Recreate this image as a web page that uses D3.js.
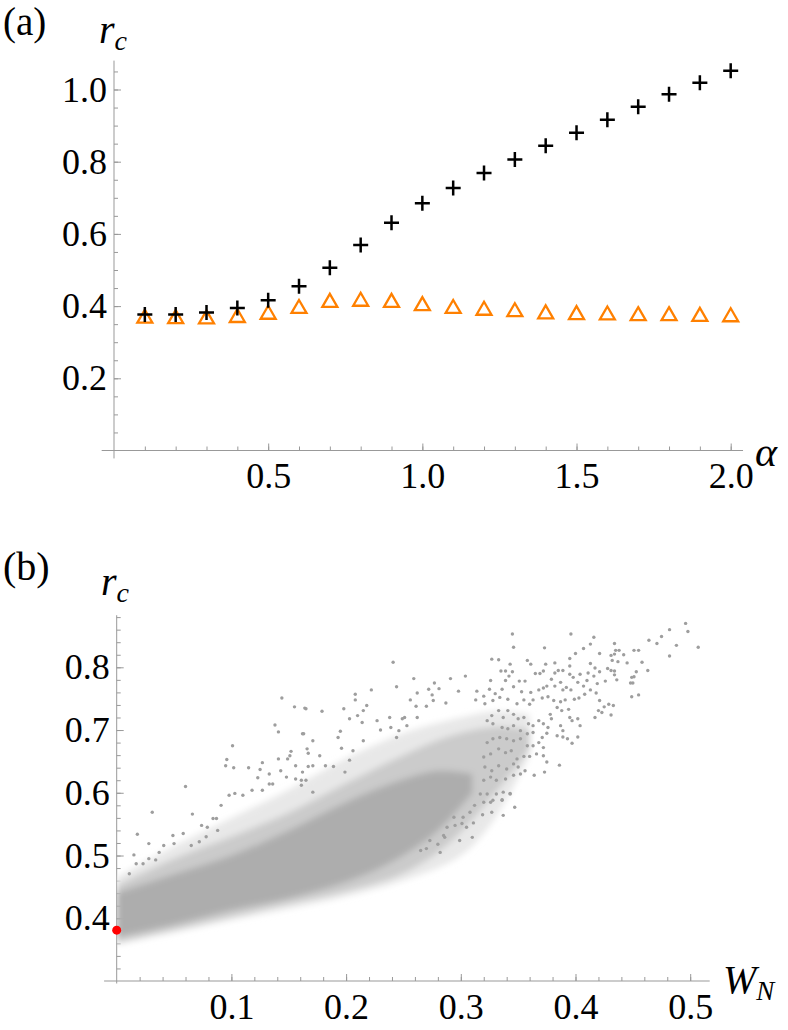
<!DOCTYPE html>
<html>
<head>
<meta charset="utf-8">
<script src="https://cdn.jsdelivr.net/npm/d3@7"></script>
<style>
  body { margin: 0; background: #fff; }
  svg { display: block; }
</style>
</head>
<body>
<div id="chart"></div>
<script>
// ---- panel (a) data ----
const alpha = [0.1, 0.2, 0.3, 0.4, 0.5, 0.6, 0.7, 0.8, 0.9, 1.0,
               1.1, 1.2, 1.3, 1.4, 1.5, 1.6, 1.7, 1.8, 1.9, 2.0];
const rcPlus = [0.377, 0.377, 0.382, 0.395, 0.416, 0.455, 0.506, 0.569, 0.631, 0.685,
                0.727, 0.769, 0.806, 0.844, 0.880, 0.916, 0.952, 0.987, 1.019, 1.052];
const rcTriangle = [0.372, 0.371, 0.370, 0.374, 0.383, 0.399, 0.416, 0.419, 0.416, 0.407,
                    0.399, 0.394, 0.390, 0.384, 0.382, 0.381, 0.379, 0.379, 0.377, 0.376];
const aXTicks = [0.5, 1.0, 1.5, 2.0];
const aYTicks = [0.2, 0.4, 0.6, 0.8, 1.0];

// ---- panel (b) data ----
// density zones of the cloud: W_N, upper r_c, lower r_c
const outerW   = [0, 0.05, 0.10, 0.15, 0.20, 0.25, 0.30, 0.33, 0.36];
const outerTop = [0.465, 0.515, 0.56, 0.605, 0.655, 0.695, 0.72, 0.73, 0.725];
const outerBot = [0.358, 0.377, 0.397, 0.415, 0.435, 0.46, 0.50, 0.56, 0.66];
const midW   = [0, 0.05, 0.10, 0.15, 0.20, 0.25, 0.29, 0.33, 0.36];
const midTop = [0.452, 0.495, 0.53, 0.568, 0.615, 0.66, 0.69, 0.705, 0.70];
const midBot = [0.362, 0.382, 0.403, 0.423, 0.443, 0.472, 0.52, 0.60, 0.67];
const coreW   = [0, 0.05, 0.10, 0.15, 0.20, 0.24, 0.28, 0.31];
const coreTop = [0.44, 0.47, 0.50, 0.54, 0.585, 0.615, 0.635, 0.63];
const coreBot = [0.37, 0.39, 0.413, 0.432, 0.458, 0.49, 0.54, 0.60];
// single points: [W_N, r_c]
const cloudRight = [
  [0.345,0.853],[0.346,0.832],[0.373,0.831],[0.396,0.853],[0.416,0.848],[0.413,0.837],[0.434,0.838],[0.407,0.830],[0.400,0.822],[0.395,0.814],
  [0.327,0.813],[0.333,0.812],[0.358,0.811],[0.361,0.805],[0.374,0.805],[0.382,0.807],[0.395,0.802],[0.413,0.806],[0.421,0.822],[0.431,0.819],
  [0.435,0.827],[0.438,0.827],[0.434,0.821],[0.442,0.820],[0.432,0.811],[0.437,0.809],[0.445,0.807],[0.451,0.827],[0.455,0.827],[0.458,0.808],
  [0.463,0.795],[0.453,0.793],[0.449,0.784],[0.451,0.785],[0.448,0.775],[0.450,0.775],[0.449,0.753],[0.455,0.756],[0.464,0.843],[0.471,0.838],
  [0.475,0.849],[0.482,0.860],[0.488,0.835],[0.482,0.818],[0.496,0.870],[0.498,0.857],[0.507,0.832],[0.428,0.798],[0.431,0.795],[0.434,0.788],
  [0.436,0.780],[0.434,0.794],[0.417,0.799],[0.421,0.793],[0.411,0.791],[0.416,0.786],[0.426,0.778],[0.419,0.774],[0.410,0.779],[0.407,0.770],
  [0.402,0.776],[0.398,0.784],[0.404,0.789],[0.395,0.789],[0.385,0.795],[0.389,0.795],[0.382,0.791],[0.372,0.794],[0.369,0.790],[0.365,0.790],
  [0.343,0.805],[0.335,0.794],[0.339,0.794],[0.345,0.793],[0.342,0.786],[0.326,0.779],[0.339,0.779],[0.351,0.778],[0.356,0.778],[0.379,0.781],
  [0.387,0.776],[0.392,0.768],[0.396,0.764],[0.389,0.764],[0.382,0.770],[0.375,0.770],[0.372,0.767],[0.368,0.764],[0.361,0.760],[0.353,0.761],
  [0.346,0.769],[0.336,0.765],[0.330,0.758],[0.325,0.765],[0.418,0.759],[0.413,0.764],[0.408,0.757],[0.403,0.751],[0.399,0.749],[0.391,0.748],
  [0.387,0.745],[0.381,0.747],[0.376,0.753],[0.371,0.751],[0.363,0.748],[0.360,0.741],[0.355,0.748],[0.349,0.742],[0.341,0.749],[0.334,0.752],
  [0.328,0.747],[0.321,0.742],[0.421,0.747],[0.425,0.737],[0.429,0.741],[0.433,0.739],[0.420,0.731],[0.417,0.720],[0.423,0.728],[0.431,0.724],
  [0.394,0.733],[0.388,0.731],[0.384,0.736],[0.395,0.720],[0.397,0.715],[0.402,0.718],[0.404,0.707],[0.387,0.707],[0.389,0.699],[0.384,0.691],
  [0.389,0.689],[0.393,0.686],[0.397,0.679],[0.402,0.689],[0.378,0.725],[0.379,0.718],[0.376,0.704],[0.372,0.710],[0.368,0.715],[0.363,0.707],
  [0.359,0.710],[0.355,0.720],[0.350,0.718],[0.346,0.725],[0.341,0.731],[0.337,0.720],[0.333,0.731],[0.327,0.723],[0.323,0.715],[0.328,0.710],
  [0.336,0.704],[0.341,0.702],[0.346,0.707],[0.352,0.699],[0.358,0.694],[0.363,0.696],[0.371,0.688],[0.375,0.695],[0.368,0.680],[0.363,0.675],
  [0.358,0.675],[0.352,0.686],[0.346,0.683],[0.340,0.686],[0.334,0.688],[0.328,0.686],[0.323,0.680],[0.372,0.672],[0.375,0.649],[0.372,0.659],
  [0.366,0.662],[0.360,0.658],[0.355,0.658],[0.349,0.654],[0.344,0.667],[0.339,0.664],[0.333,0.670],[0.326,0.662],[0.320,0.657],[0.386,0.644],
  [0.373,0.633],[0.364,0.628],[0.356,0.635],[0.350,0.641],[0.346,0.646],[0.340,0.638],[0.333,0.643],[0.327,0.635],[0.321,0.641],[0.352,0.630],
  [0.346,0.628],[0.339,0.622],[0.331,0.620],[0.326,0.625],[0.320,0.620],[0.343,0.599],[0.337,0.601],[0.331,0.598],[0.336,0.588],[0.328,0.588],
  [0.323,0.598],[0.347,0.577]
];
const cloudLower = [
  [0.337,0.564],[0.327,0.569],[0.319,0.565],[0.310,0.529],[0.299,0.524],[0.282,0.505],[0.280,0.518],[0.286,0.529],[0.305,0.545],[0.311,0.552],
  [0.301,0.551],[0.295,0.548],[0.270,0.511],[0.265,0.508],[0.326,0.585],[0.343,0.598],[0.336,0.589],[0.320,0.585],[0.317,0.598],[0.308,0.569],
  [0.312,0.580],[0.302,0.561],[0.294,0.561],[0.288,0.545],[0.285,0.532],[0.273,0.524]
];
const cloudUpper = [
  [0.144,0.751],[0.155,0.737],[0.164,0.735],[0.138,0.708],[0.141,0.697],[0.162,0.694],[0.171,0.683],[0.101,0.675],[0.096,0.653],[0.095,0.643],
  [0.102,0.640],[0.127,0.648],[0.152,0.666],[0.151,0.659],[0.167,0.663],[0.141,0.654],[0.149,0.654],[0.143,0.635],[0.115,0.640],[0.125,0.637],
  [0.156,0.643],[0.167,0.642],[0.060,0.610],[0.031,0.569],[0.066,0.566],[0.018,0.534],[0.028,0.519],[0.015,0.501],[0.133,0.630],[0.133,0.614],
  [0.136,0.614],[0.118,0.604],[0.127,0.604],[0.123,0.624],[0.098,0.596],[0.103,0.599],[0.110,0.596],[0.091,0.580],[0.084,0.559],[0.074,0.548],
  [0.079,0.545],[0.088,0.540],[0.087,0.559],[0.049,0.532],[0.058,0.535],[0.050,0.519],[0.041,0.516],[0.037,0.505],[0.034,0.493],[0.028,0.495],
  [0.023,0.487],[0.017,0.487],[0.011,0.471],[0.072,0.522],[0.065,0.516],[0.078,0.530],[0.156,0.622],[0.162,0.633],[0.148,0.625],[0.161,0.612],
  [0.165,0.620],[0.171,0.601],
  [0.241,0.808],[0.259,0.782],[0.244,0.769],[0.291,0.782],[0.304,0.786],[0.277,0.775],[0.272,0.765],[0.281,0.766],[0.298,0.762],[0.222,0.764],
  [0.208,0.757],[0.208,0.748],[0.262,0.759],[0.256,0.748],[0.275,0.756],[0.276,0.747],[0.287,0.743],[0.314,0.762],[0.320,0.754],[0.313,0.748],
  [0.165,0.734],[0.179,0.730],[0.198,0.734],[0.215,0.731],[0.218,0.739],[0.261,0.738],[0.270,0.738],[0.210,0.723],[0.203,0.718],[0.195,0.698],
  [0.193,0.688],[0.214,0.712],[0.227,0.715],[0.230,0.700],[0.238,0.720],[0.239,0.704],[0.249,0.718],[0.251,0.720],[0.262,0.720],[0.244,0.688],
  [0.246,0.699],[0.253,0.707],[0.163,0.694],[0.166,0.670],[0.177,0.659],[0.196,0.671],[0.206,0.667],[0.215,0.683],[0.182,0.643],
  [0.171,0.643],[0.189,0.642],[0.199,0.633],[0.203,0.652],[0.161,0.620]
];
const redPoint = [0, 0.381];
const bXTicks = [0.1, 0.2, 0.3, 0.4, 0.5];
const bYTicks = [0.4, 0.5, 0.6, 0.7, 0.8];

const width = 788, height = 1030;
const axisColor = "#999";
const serif = "'Liberation Serif'";

const svg = d3.select("#chart").append("svg")
    .attr("width", width)
    .attr("height", height)
    .attr("font-family", serif);

// scales
const xA = d3.scaleLinear().domain([0, 2]).range([114, 730.7]);
const yA = d3.scaleLinear().domain([0, 1]).range([450.5, 89.5]);
const xB = d3.scaleLinear().domain([0, 0.5]).range([116.7, 690.2]);
const yB = d3.scaleLinear().domain([0.3, 0.8]).range([981, 667.3]);

function drawAxes (g, x, y, o) {
    const yLine = y(o.yOrigin);
    const xLine = x(o.xOrigin);
    g.append("line")
        .attr("x1", x(o.xExtent[0])).attr("x2", x(o.xExtent[1]))
        .attr("y1", yLine).attr("y2", yLine)
        .attr("stroke", axisColor).attr("stroke-width", 1);
    g.append("line")
        .attr("x1", xLine).attr("x2", xLine)
        .attr("y1", y(o.yExtent[0])).attr("y2", y(o.yExtent[1]))
        .attr("stroke", axisColor).attr("stroke-width", 1);

    function style(sel) {
        sel.select(".domain").remove();
        sel.selectAll("line").attr("stroke", axisColor);
        sel.attr("font-size", 36).attr("font-family", serif);
        sel.selectAll("text").attr("fill", "#000").attr("font-family", serif);
    }

    g.append("g").attr("transform", `translate(0,${yLine})`)
        .call(d3.axisBottom(x).tickValues(o.xMinor).tickSize(-4).tickFormat(""))
        .call(style);
    g.append("g").attr("transform", `translate(0,${yLine})`)
        .call(d3.axisBottom(x).tickValues(o.xMajor).tickSizeInner(-7).tickSizeOuter(0)
              .tickPadding(12).tickFormat(d3.format(".1f")))
        .call(style);
    g.append("g").attr("transform", `translate(${xLine},0)`)
        .call(d3.axisLeft(y).tickValues(o.yMinor).tickSize(-4).tickFormat(""))
        .call(style);
    g.append("g").attr("transform", `translate(${xLine},0)`)
        .call(d3.axisLeft(y).tickValues(o.yMajor).tickSizeInner(-7).tickSizeOuter(0)
              .tickPadding(7).tickFormat(d3.format(".1f")))
        .call(style);
}

function label (g, x, y, size, main, sub, subSize, italic) {
    const t = g.append("text")
        .attr("x", x).attr("y", y)
        .attr("font-size", size)
        .attr("font-family", serif)
        .attr("fill", "#000")
        .text(main);
    if (italic) t.attr("font-style", "italic");
    if (sub) t.append("tspan").attr("font-size", subSize).attr("dy", 7).text(sub);
    return t;
}

// ---------- panel (a) ----------
const gA = svg.append("g");
drawAxes(gA, xA, yA, {
    xOrigin: 0, yOrigin: 0,
    xExtent: [-0.04, 2.04], yExtent: [-0.022, 1.08],
    xMajor: aXTicks, xMinor: d3.range(1, 21).map(i => i / 10),
    yMajor: aYTicks, yMinor: d3.range(1, 22).map(i => i * 0.05)
});

const ptsA = alpha.map((a, i) => ({a: a, plus: rcPlus[i], tri: rcTriangle[i]}));

gA.append("g").selectAll("path")
    .data(ptsA)
    .join("path")
        .attr("transform", d => `translate(${xA(d.a)},${yA(d.tri)})`)
        .attr("d", "M0,-6.5L7.5,6.5L-7.5,6.5Z")
        .attr("fill", "none")
        .attr("stroke", "#ff8000")
        .attr("stroke-width", 2.3);

gA.append("g").selectAll("path")
    .data(ptsA)
    .join("path")
        .attr("transform", d => `translate(${xA(d.a)},${yA(d.plus)})`)
        .attr("d", "M-7.5,0H7.5M0,-7.5V7.5")
        .attr("stroke", "#000")
        .attr("stroke-width", 2.5);

label(gA, 3, 35, 39, "(a)");
label(gA, 99, 43, 40, "r", "c", 28, true);
label(gA, 755, 466, 42, "α", null, 0, true);

// ---------- panel (b) ----------
const gB = svg.append("g");
drawAxes(gB, xB, yB, {
    xOrigin: 0, yOrigin: 0.3,
    xExtent: [-0.011, 0.517], yExtent: [0.296, 0.883],
    xMajor: bXTicks, xMinor: d3.range(1, 26).map(i => i * 0.02),
    yMajor: bYTicks, yMinor: d3.range(16, 45).map(i => i * 0.02)
});

const defs = svg.append("defs");
defs.append("filter").attr("id", "soft")
    .attr("x", "-10%").attr("y", "-10%").attr("width", "120%").attr("height", "120%")
    .append("feGaussianBlur").attr("stdDeviation", 3);
defs.append("clipPath").attr("id", "rightOfAxis")
    .append("rect")
        .attr("x", xB(0)).attr("y", 0)
        .attr("width", width).attr("height", height);

const band = d3.area()
    .x(d => xB(d[0]))
    .y0(d => yB(d[2]))
    .y1(d => yB(d[1]))
    .curve(d3.curveCatmullRom);

const zones = [
    {w: outerW, top: outerTop, bot: outerBot, fill: "#e8e8e8"},
    {w: midW, top: midTop, bot: midBot, fill: "#cbcbcb"},
    {w: coreW, top: coreTop, bot: coreBot, fill: "#adadad"}
];
gB.append("g").attr("clip-path", "url(#rightOfAxis)")
  .append("g").attr("filter", "url(#soft)")
    .selectAll("path")
    .data(zones)
    .join("path")
        .attr("d", z => band(z.w.map((w, i) => [w, z.top[i], z.bot[i]])))
        .attr("fill", z => z.fill);

gB.append("g").attr("fill", "#9e9e9e")
    .selectAll("circle")
    .data(cloudRight.concat(cloudLower, cloudUpper))
    .join("circle")
        .attr("cx", d => xB(d[0]))
        .attr("cy", d => yB(d[1]))
        .attr("r", 1.7);

gB.append("circle")
    .attr("cx", xB(redPoint[0]))
    .attr("cy", yB(redPoint[1]))
    .attr("r", 4.5)
    .attr("fill", "#f00");

label(gB, 3, 580, 40, "(b)");
label(gB, 101, 595, 40, "r", "c", 28, true);
label(gB, 723, 993, 40, "W", "N", 27, true);
</script>
</body>
</html>
